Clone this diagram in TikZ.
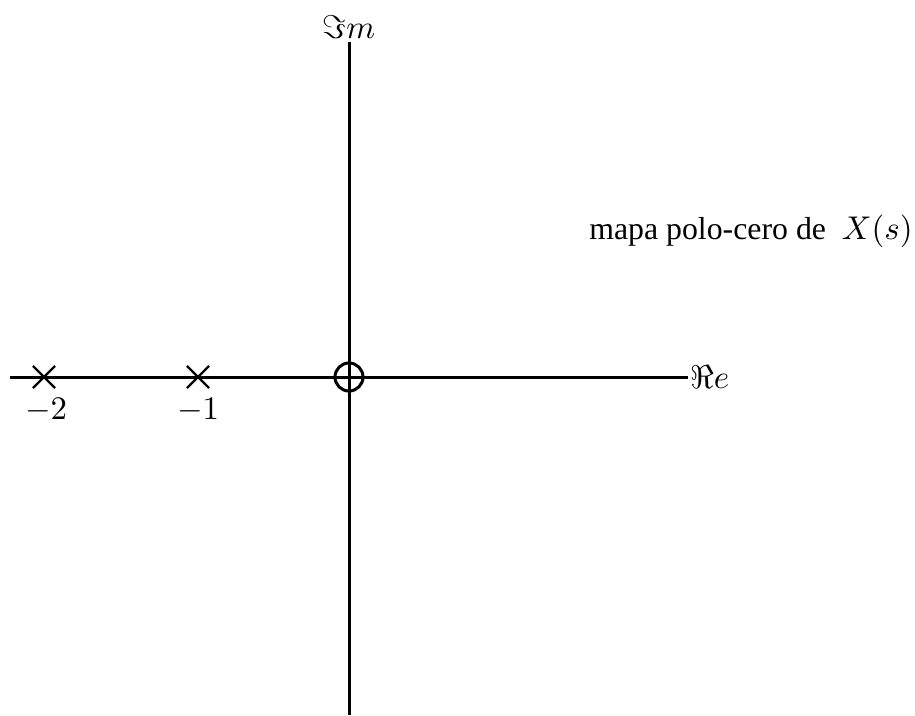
\documentclass[tikz,border=0pt]{standalone}
\usepackage[no-math]{fontspec}
\setmainfont{Liberation Serif}
\tikzset{
  axisline/.style={line width=1pt},
  polemark/.style={line width=0.75pt},
  lbl/.style={inner sep=1pt,font=\fontsize{10.95}{13}\selectfont}
}
\begin{document}
\begin{tikzpicture}[x=0.3333pt,y=-0.3333pt]
\useasboundingbox (0,0) rectangle (915,715);
% axes endpoints
\coordinate (xl) at (10,377);
\coordinate (xr) at (688,377);
\coordinate (yb) at (349,715);
\coordinate (yt) at (349,42);
\coordinate (o) at (349,377);
\draw[axisline] (xl) -- (xr);
\draw[axisline] (yb) -- (yt);
\node[lbl,anchor=west,inner sep=0.5pt] (re) at (xr) {$\Re e$};
\node[lbl,anchor=south] (im) at (yt) {$\Im m$};
% zero
\draw[axisline] (o) circle (14);
% poles
\coordinate (p2) at (44,377);
\coordinate (p1) at (198,377);
\foreach \p in {p1,p2}{
  \draw[polemark] ([xshift=-3.7pt,yshift=-3.7pt]\p) -- ([xshift=3.7pt,yshift=3.7pt]\p);
  \draw[polemark] ([xshift=-3.7pt,yshift=3.7pt]\p) -- ([xshift=3.7pt,yshift=-3.7pt]\p);
}
\node[lbl] (l2) at (46,410) {$-2$};
\node[lbl] (l1) at (198,410) {$-1$};
\node[lbl,font=\fontsize{10.6}{13}\selectfont] (title) at (751,231) {mapa polo-cero de \ $X(s)$};
\end{tikzpicture}
\end{document}
